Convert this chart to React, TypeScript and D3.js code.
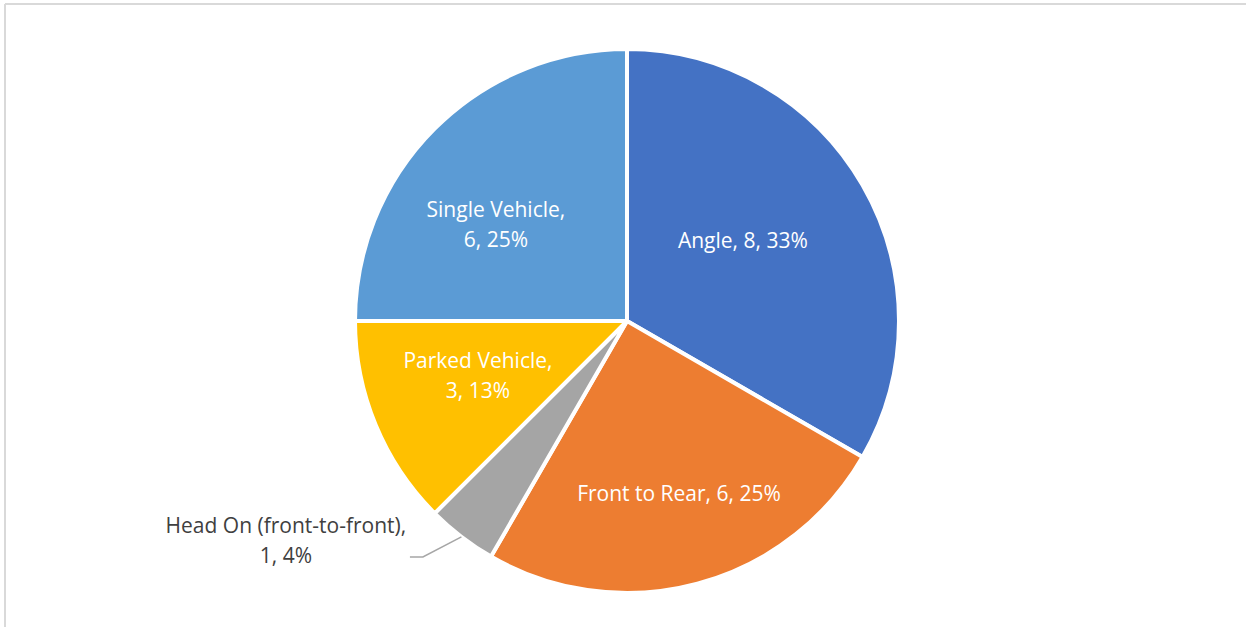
import React from "react";
import * as d3 from "d3";

const categories = ["Angle", "Front to Rear", "Head On (front-to-front)", "Parked Vehicle", "Single Vehicle"];
const values = [8, 6, 1, 3, 6];
const percents = ["33%", "25%", "4%", "13%", "25%"];
const colors = ["#4472C4", "#ED7D31", "#A5A5A5", "#FFC000", "#5B9BD5"];
// label text lines per slice
const labelLines = [
  ["Angle, 8, 33%"],
  ["Front to Rear, 6, 25%"],
  ["Head On (front-to-front),", "1, 4%"],
  ["Parked Vehicle,", "3, 13%"],
  ["Single Vehicle,", "6, 25%"],
];
// label centre offsets as fractions of the radius (Excel "best fit" placement)
const labelFx = [0.426, 0.191, -1.254, -0.548, -0.482];
const labelFy = [-0.298, 0.632, 0.805, 0.199, -0.357];
const outside = [false, false, true, false, false];

const W = 1246;
const H = 627;
const cx = 627;
const cy = 321;
const R = 272;
const FONT = "'Open Sans', 'Noto Sans', sans-serif";
const FS = 21;
const LH = 30;

export default function App() {
  const pie = d3.pie<number>().sort(null).value((d) => d)(values);
  const arc = d3.arc<d3.PieArcDatum<number>>().innerRadius(0).outerRadius(R);
  return (
    <svg width={W} height={H} style={{ position: "absolute", left: 0, top: 0 }}>
      <rect x={0} y={0} width={W} height={H} fill="#fff" />
      <line x1={5} y1={4} x2={W} y2={4} stroke="#d9d9d9" strokeWidth={2} />
      <line x1={5} y1={4} x2={5} y2={H} stroke="#d9d9d9" strokeWidth={2} />
      <g transform={`translate(${cx},${cy})`}>
        {pie.map((p, i) => (
          <path key={i} d={arc(p) || ""} fill={colors[i]} stroke="#fff" strokeWidth={4} strokeLinejoin="round" />
        ))}
        {pie.map((p, i) => {
          const mid = (p.startAngle + p.endAngle) / 2;
          const lines = labelLines[i];
          const x = labelFx[i] * R;
          const y = labelFy[i] * R;
          const texts = lines.map((t, j) => (
            <text
              key={j}
              x={x}
              y={y + (j - (lines.length - 1) / 2) * LH}
              textAnchor="middle"
              dominantBaseline="central"
              fontFamily={FONT}
              fontSize={FS}
              fill={outside[i] ? "#404040" : "#fff"}
            >
              {t}
            </text>
          ));
          if (outside[i]) {
            const ox = R * Math.sin(mid);
            const oy = -R * Math.cos(mid);
            const ex = x + 137;
            const ey = y + 17;
            return (
              <g key={i}>
                <polyline points={`${ox},${oy} ${ex},${ey} ${ex - 13},${ey}`} fill="none" stroke="#a6a6a6" strokeWidth={1.5} />
                {texts}
              </g>
            );
          }
          return <g key={i}>{texts}</g>;
        })}
      </g>
    </svg>
  );
}
